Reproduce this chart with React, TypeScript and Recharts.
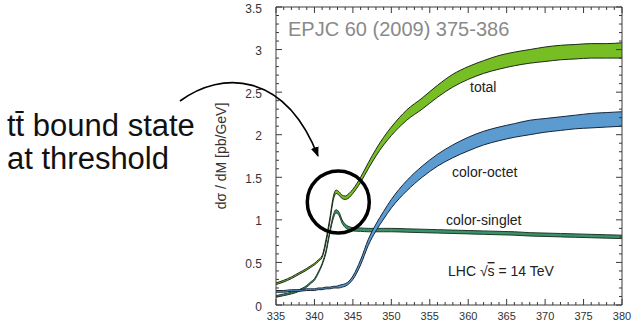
import React from "react";
import { ComposedChart, Area, XAxis, YAxis, ReferenceDot } from "recharts";

// Invariant mass grid (GeV)
const M = [335, 336, 337, 338, 339, 339.5, 340, 340.5, 341, 341.5, 342, 342.5, 342.8, 343.2, 343.6, 344, 344.5, 345, 346, 347, 348, 349, 350, 352, 354, 356, 358, 360, 362, 364, 366, 368, 370, 372, 374, 376, 378, 380];

// total (band low / high)
const TOTAL_LO = [0.24, 0.27, 0.31, 0.36, 0.41, 0.44, 0.47, 0.51, 0.56, 0.73, 0.98, 1.25, 1.31, 1.29, 1.25, 1.24, 1.26, 1.31, 1.44, 1.6, 1.75, 1.88, 1.99, 2.17, 2.3, 2.44, 2.56, 2.65, 2.72, 2.77, 2.81, 2.84, 2.86, 2.88, 2.89, 2.9, 2.9, 2.9];
const TOTAL_HI = [0.26, 0.29, 0.33, 0.38, 0.43, 0.46, 0.49, 0.53, 0.58, 0.77, 1.02, 1.29, 1.35, 1.33, 1.29, 1.28, 1.31, 1.36, 1.5, 1.67, 1.83, 1.97, 2.09, 2.29, 2.43, 2.58, 2.71, 2.8, 2.87, 2.93, 2.97, 3.0, 3.03, 3.05, 3.06, 3.07, 3.07, 3.08];

// color-octet (band low / high)
const OCTET_LO = [0.15, 0.15, 0.16, 0.16, 0.17, 0.17, 0.17, 0.18, 0.18, 0.19, 0.19, 0.2, 0.2, 0.2, 0.21, 0.22, 0.25, 0.3, 0.47, 0.7, 0.87, 1.01, 1.14, 1.34, 1.5, 1.63, 1.73, 1.81, 1.88, 1.93, 1.97, 2.0, 2.03, 2.05, 2.07, 2.08, 2.09, 2.1];
const OCTET_HI = [0.17, 0.17, 0.18, 0.18, 0.19, 0.19, 0.19, 0.2, 0.2, 0.21, 0.21, 0.22, 0.22, 0.23, 0.24, 0.25, 0.28, 0.34, 0.53, 0.77, 0.95, 1.1, 1.24, 1.46, 1.63, 1.77, 1.88, 1.97, 2.04, 2.09, 2.13, 2.17, 2.19, 2.21, 2.23, 2.25, 2.26, 2.27];

// color-singlet (band low / high)
const SINGLET_LO = [0.09, 0.11, 0.13, 0.16, 0.21, 0.25, 0.29, 0.37, 0.47, 0.61, 0.84, 1.03, 1.08, 1.05, 0.96, 0.91, 0.88, 0.87, 0.865, 0.86, 0.86, 0.86, 0.86, 0.855, 0.85, 0.845, 0.84, 0.835, 0.83, 0.825, 0.82, 0.81, 0.805, 0.8, 0.795, 0.79, 0.785, 0.78];
const SINGLET_HI = [0.11, 0.13, 0.15, 0.18, 0.23, 0.27, 0.31, 0.39, 0.49, 0.64, 0.87, 1.07, 1.12, 1.09, 1.0, 0.95, 0.92, 0.91, 0.905, 0.9, 0.9, 0.9, 0.9, 0.895, 0.89, 0.885, 0.88, 0.875, 0.87, 0.865, 0.86, 0.85, 0.845, 0.84, 0.835, 0.83, 0.825, 0.82];

const X_MAJOR = [335, 340, 345, 350, 355, 360, 365, 370, 375, 380];
const Y_MAJOR = ["0", "0.5", "1", "1.5", "2", "2.5", "3", "3.5"];

const X_TICKS = Array.from({ length: 46 }, (_, i) => 335 + i);
const Y_TICKS = Array.from({ length: 36 }, (_, i) => i / 10);

const data = M.map((m, i) => ({
  m,
  total: [TOTAL_LO[i], TOTAL_HI[i]],
  octet: [OCTET_LO[i], OCTET_HI[i]],
  singlet: [SINGLET_LO[i], SINGLET_HI[i]],
}));

const AXIS = "#3a3a3a";
const FONT = "'Liberation Sans', Arial, Helvetica, sans-serif";

const isXMajor = (v: number) => X_MAJOR.includes(Math.round(v));
const yLabel = (v: number) => {
  const k = Math.round(v * 10);
  if (k % 5 !== 0) return null;
  return Y_MAJOR[k / 5];
};

const BottomTick = (p: any) => {
  const v = p.payload.value;
  const major = isXMajor(v);
  return (
    <g>
      <line x1={p.x} x2={p.x} y1={p.y} y2={p.y - (major ? 6 : 3)} stroke={AXIS} strokeWidth={1} />
      {major && (
        <text x={p.x} y={p.y + 15} textAnchor="middle" fontSize={11} fill="#333" fontFamily={FONT}>
          {String(Math.round(v))}
        </text>
      )}
    </g>
  );
};
const TopTick = (p: any) => {
  const major = isXMajor(p.payload.value);
  return <line x1={p.x} x2={p.x} y1={p.y} y2={p.y + (major ? 6 : 3)} stroke={AXIS} strokeWidth={1} />;
};
const LeftTick = (p: any) => {
  const lab = yLabel(p.payload.value);
  return (
    <g>
      <line x1={p.x} x2={p.x + (lab ? 6 : 3)} y1={p.y} y2={p.y} stroke={AXIS} strokeWidth={1} />
      {lab && (
        <text x={p.x - 14} y={p.y + 5.5} textAnchor="end" fontSize={12} fill="#333" fontFamily={FONT}>
          {lab}
        </text>
      )}
    </g>
  );
};
const RightTick = (p: any) => {
  const lab = yLabel(p.payload.value);
  return <line x1={p.x} x2={p.x - (lab ? 6 : 3)} y1={p.y} y2={p.y} stroke={AXIS} strokeWidth={1} />;
};

export default function App() {
  return (
    <div style={{ position: "absolute", left: 0, top: 0, width: 641, height: 324, background: "#fff" }}>
      <ComposedChart width={641} height={324} data={data} margin={{ top: 0, right: 0, bottom: 0, left: 216 }}>
        <XAxis
          xAxisId="b"
          dataKey="m"
          type="number"
          domain={[335, 380]}
          ticks={X_TICKS}
          interval={0}
          height={19}
          tickSize={0}
          tickMargin={0}
          tick={BottomTick}
          axisLine={{ stroke: AXIS }}
          tickLine={false}
          allowDataOverflow
        />
        <XAxis
          xAxisId="t"
          orientation="top"
          dataKey="m"
          type="number"
          domain={[335, 380]}
          ticks={X_TICKS}
          interval={0}
          height={7}
          tickSize={0}
          tickMargin={0}
          tick={TopTick}
          axisLine={{ stroke: AXIS }}
          tickLine={false}
          allowDataOverflow
        />
        <YAxis
          yAxisId="l"
          type="number"
          domain={[0, 3.5]}
          ticks={Y_TICKS}
          interval={0}
          width={60}
          tickSize={0}
          tickMargin={0}
          tick={LeftTick}
          axisLine={{ stroke: AXIS }}
          tickLine={false}
          allowDataOverflow
          label={{
            value: "dσ / dM [pb/GeV]",
            angle: -90,
            position: "insideLeft",
            offset: 0,
            dx: 5,
            style: { fontSize: 14, fill: "#333", fontFamily: FONT, textAnchor: "middle" },
          }}
        />
        <YAxis
          yAxisId="r"
          orientation="right"
          type="number"
          domain={[0, 3.5]}
          ticks={Y_TICKS}
          interval={0}
          width={19}
          tickSize={0}
          tickMargin={0}
          tick={RightTick}
          axisLine={{ stroke: AXIS }}
          tickLine={false}
          allowDataOverflow
        />
        <Area
          xAxisId="b"
          yAxisId="l"
          dataKey="total"
          type="monotoneX"
          fill="#77bd24"
          fillOpacity={1}
          stroke="#1e2a18"
          strokeWidth={1}
          isAnimationActive={false}
          dot={false}
          activeDot={false}
        />
        <Area
          xAxisId="b"
          yAxisId="l"
          dataKey="singlet"
          type="monotoneX"
          fill="#3b9068"
          fillOpacity={1}
          stroke="#1d3a2a"
          strokeWidth={1}
          isAnimationActive={false}
          dot={false}
          activeDot={false}
        />
        <Area
          xAxisId="b"
          yAxisId="l"
          dataKey="octet"
          type="monotoneX"
          fill="#5b9bd0"
          fillOpacity={1}
          stroke="#17263a"
          strokeWidth={1}
          isAnimationActive={false}
          dot={false}
          activeDot={false}
        />
        <ReferenceDot
          xAxisId="b"
          yAxisId="l"
          x={343.1}
          y={1.21}
          r={31}
          fill="none"
          stroke="#000"
          strokeWidth={3.5}
          ifOverflow="visible"
        />
      </ComposedChart>
      <svg
        width={641}
        height={324}
        style={{ position: "absolute", left: 0, top: 0, pointerEvents: "none" }}
      >
        <defs>
          <marker id="arrowhead" markerUnits="userSpaceOnUse" markerWidth={10} markerHeight={10} refX={9} refY={5} orient="auto">
            <path d="M0,1 L10,5 L0,9 z" fill="#000" />
          </marker>
        </defs>
        <path d="M180,101 C222,70 285,72 318,156" fill="none" stroke="#000" strokeWidth={1.6} markerEnd="url(#arrowhead)" />
        <text x={288} y={36} fontSize={20} fill="#8a8a8a" fontFamily={FONT}>EPJC 60 (2009) 375-386</text>
        <text x={470} y={92} fontSize={14} fill="#222" fontFamily={FONT}>total</text>
        <text x={452} y={177} fontSize={14} fill="#222" fontFamily={FONT}>color-octet</text>
        <text x={446} y={225} fontSize={14} fill="#222" fontFamily={FONT}>color-singlet</text>
        <text x={448} y={276} fontSize={14} fill="#222" fontFamily={FONT}>
          LHC √<tspan style={{ textDecoration: "overline" }}>s</tspan> = 14 TeV
        </text>
        <text x={7} y={136} fontSize={31} fill="#111" fontFamily={FONT}>
          {"tt\u0304 bound state"}
        </text>
        <text x={7} y={169} fontSize={31} fill="#111" fontFamily={FONT}>at threshold</text>
      </svg>
    </div>
  );
}
